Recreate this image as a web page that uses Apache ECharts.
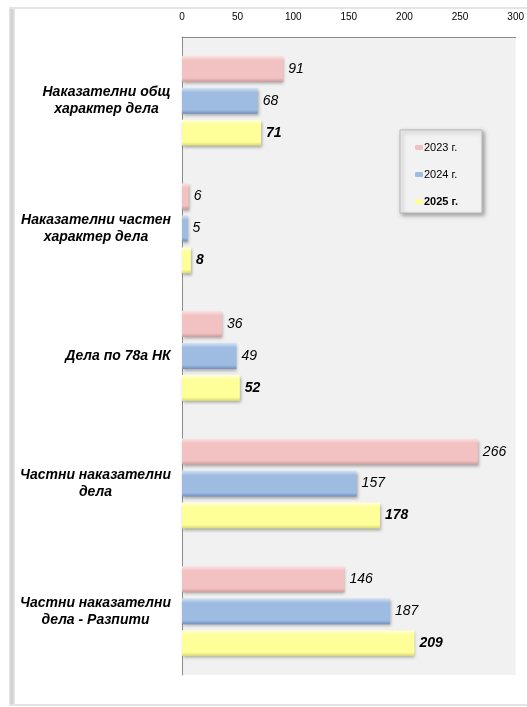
<!DOCTYPE html>
<html>
<head>
<meta charset="utf-8">
<script src="https://cdn.jsdelivr.net/npm/echarts@6/dist/echarts.min.js"></script>
<style>
html,body{margin:0;padding:0;background:#fff;}
#c{width:527px;height:707px;}
</style>
</head>
<body>
<div id="c"></div>
<script>
var categories = [
  'Наказателни общ\nхарактер дела',
  'Наказателни частен\nхарактер дела',
  'Дела по 78а НК',
  'Частни наказателни\nдела',
  'Частни наказателни\nдела - Разпити'
];
var seriesNames = ['2023 г.', '2024 г.', '2025 г.'];
var values2023 = [91, 6, 36, 266, 146];
var values2024 = [68, 5, 49, 157, 187];
var values2025 = [71, 8, 52, 178, 209];
var xTicks = {min: 0, max: 300, interval: 50};

var FONT = '"Liberation Sans", Arial, sans-serif';

// measure label block widths so lines are centred within a right-aligned block
var cv = document.createElement('canvas').getContext('2d');
cv.font = 'italic bold 14px "Liberation Sans"';
var rich = {};
categories.forEach(function (c, i) {
  var w = 0;
  c.split('\n').forEach(function (l) { w = Math.max(w, cv.measureText(l).width); });
  rich['r' + i] = {width: Math.ceil(w), align: 'center', fontStyle: 'italic', fontWeight: 'bold', fontSize: 14, fontFamily: FONT, color: '#000', lineHeight: 17};
});

function grad(top, mid, bot) {
  return new echarts.graphic.LinearGradient(0, 0, 0, 1, [
    {offset: 0, color: top}, {offset: 0.18, color: mid}, {offset: 0.85, color: mid}, {offset: 1, color: bot}
  ]);
}
var styles = [
  grad('#fbe3e3', '#f2c1c1', '#cf9a9a'),
  grad('#d4e3f5', '#9ebbe1', '#6f8fbf'),
  grad('#ffffdd', '#ffff99', '#d6d67a')
];
var iconColors = ['#f2c1c1', '#9ebbe1', '#ffff99'];
var datas = [values2023, values2024, values2025];

var chart = echarts.init(document.getElementById('c'), null, {renderer: 'canvas'});
chart.setOption({
  animation: false,
  backgroundColor: '#fff',
  graphic: [
    {type: 'rect', shape: {x: 9, y: 9, width: 6, height: 697},
     style: {fill: new echarts.graphic.LinearGradient(0, 0, 1, 0, [{offset: 0, color: '#e6e6e6'}, {offset: 0.5, color: '#cfcfcf'}, {offset: 1, color: '#e9e9e9'}])}},
    {type: 'rect', shape: {x: 9, y: 7, width: 518, height: 2}, style: {fill: '#e4e4e4'}},
    {type: 'rect', shape: {x: 9, y: 704, width: 518, height: 2}, style: {fill: '#e4e4e4'}}
  ],
  grid: {left: 182, right: 6, top: 37, bottom: 32, show: true, backgroundColor: '#f1f1f1', borderWidth: 0},
  legend: {
    orient: 'vertical',
    left: 400, top: 130,
    width: 83,
    padding: [12, 24, 6, 15],
    itemGap: 16,
    itemWidth: 8, itemHeight: 5,
    backgroundColor: '#f2f2f2',
    borderColor: '#b9b9b9', borderWidth: 1,
    shadowColor: 'rgba(0,0,0,0.35)', shadowBlur: 4, shadowOffsetX: 2, shadowOffsetY: 2,
    textStyle: {fontFamily: FONT, fontSize: 11, color: '#000', padding: [0, 0, 0, -4]},
    data: [
      {name: seriesNames[0], itemStyle: {color: iconColors[0]}},
      {name: seriesNames[1], itemStyle: {color: iconColors[1]}},
      {name: seriesNames[2], itemStyle: {color: iconColors[2]}, textStyle: {fontWeight: 'bold'}}
    ]
  },
  xAxis: {
    type: 'value', position: 'top',
    min: xTicks.min, max: xTicks.max, interval: xTicks.interval,
    axisLine: {show: true, lineStyle: {color: '#8c8c8c', width: 1}},
    axisTick: {show: false},
    splitLine: {show: false},
    axisLabel: {fontFamily: FONT, fontSize: 10, color: '#000', margin: 15}
  },
  yAxis: {
    type: 'category', inverse: true, data: categories,
    axisLine: {show: true, lineStyle: {color: '#8c8c8c', width: 1}},
    axisTick: {show: false},
    axisLabel: {
      align: 'right', margin: 11,
      fontStyle: 'italic', fontWeight: 'bold', fontSize: 14, fontFamily: FONT, color: '#000',
      formatter: function (v, i) {
        return v.split('\n').map(function (l) { return '{r' + i + '|' + l + '}'; }).join('\n');
      },
      rich: rich
    }
  },
  series: datas.map(function (d, k) {
    return {
      name: seriesNames[k], type: 'bar', data: d,
      barWidth: 26, barGap: '23%',
      itemStyle: {color: styles[k], shadowColor: 'rgba(0,0,0,0.3)', shadowBlur: 3, shadowOffsetX: 1, shadowOffsetY: 2},
      label: {show: true, position: 'right', distance: 5, fontFamily: FONT, fontSize: 14, fontStyle: 'italic',
              fontWeight: k === 2 ? 'bold' : 'normal', color: '#000'}
    };
  })
});
</script>
</body>
</html>
